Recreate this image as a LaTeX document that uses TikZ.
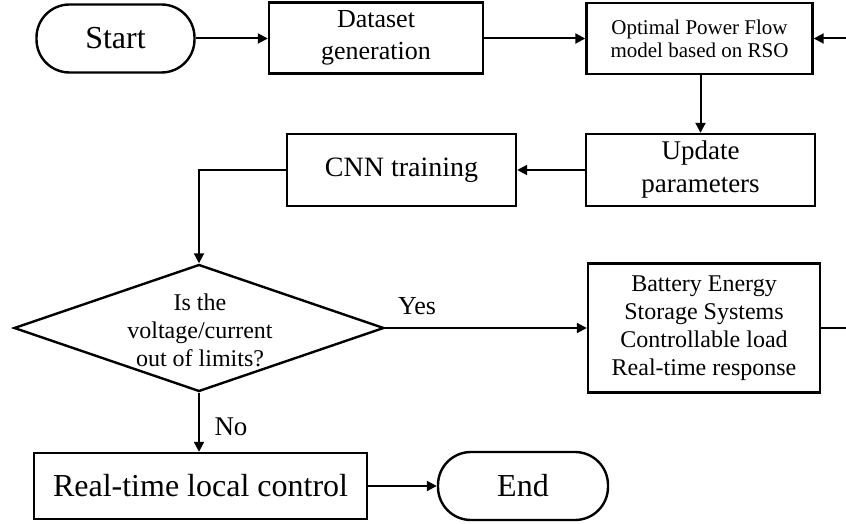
\documentclass[tikz,border=0pt]{standalone}
\usepackage{fontspec}
\setmainfont{Liberation Serif}
\usetikzlibrary{arrows.meta,shapes.geometric}
\tikzset{
  box/.style={draw, line width=2.4pt, rectangle, align=center, inner sep=0pt},
  term/.style={draw, line width=2.4pt, rectangle, rounded corners=33pt, align=center, inner sep=0pt},
  conn/.style={line width=2pt, -{Triangle[length=10pt,width=10pt]}},
  lbl/.style={inner sep=0pt, align=center}
}
\newcommand{\fs}[2]{\fontsize{#1}{#2}\selectfont}
\begin{document}
\begin{tikzpicture}[x=1pt,y=1pt]
\useasboundingbox (0,0) rectangle (846,-524);
% top row
\node[term, minimum width=158pt, minimum height=68pt, font=\fs{32}{38}] (start) at (115.5,-38.5) {Start};
\node[box, minimum width=214pt, minimum height=71pt, font=\fs{26}{32}] (data) at (376,-38) {Dataset\\generation};
\node[box, minimum width=226pt, minimum height=71pt, font=\fs{21}{23}] (opf) at (699.5,-38.5) {Optimal Power Flow\\model based on RSO};
% second row
\node[box, minimum width=229pt, minimum height=72pt, font=\fs{27}{33}] (upd) at (700.5,-170) {Update\\parameters};
\node[box, minimum width=229pt, minimum height=72pt, font=\fs{28}{34}] (cnn) at (401.5,-170) {CNN training};
% decision
\node[draw, line width=2.4pt, diamond, inner sep=0pt, minimum width=370pt, minimum height=127pt] (dec) at (199,-328) {};
\node[lbl, font=\fs{24}{28}] (dectext) at (200,-330) {Is the\\voltage/current\\out of limits?};
\node[box, minimum width=232pt, minimum height=129pt, font=\fs{24}{28}] (bat) at (704,-328) {Battery Energy\\Storage Systems\\Controllable load\\Real-time response};
% bottom row
\node[box, minimum width=333pt, minimum height=66pt, font=\fs{32}{38}] (rt) at (200.5,-486) {Real-time local control};
\node[term, minimum width=170pt, minimum height=68pt, font=\fs{32}{38}] (end) at (523,-486) {End};
% labels
\node[lbl, font=\fs{26}{30}] (yes) at (417,-306) {Yes};
\node[lbl, font=\fs{27}{30}] (no) at (231,-427) {No};
% connectors
\draw[conn] (start.east) -- (start.east -| data.west);
\draw[conn] (data.east |- opf.west) -- (opf.west);
\draw[conn] (upd.north -| opf.south) ++(0,0) (opf.south -| upd.north) -- (upd.north);
\draw[conn] (upd.west) -- (cnn.east);
\coordinate (cnnl) at (cnn.west -| dec.north);
\draw[conn] (cnn.west) -- (cnnl) -- (dec.north);
\draw[conn] (dec.east) -- (bat.west);
\draw[conn] (dec.south) -- (dec.south |- rt.north);
\draw[conn] (rt.east) -- (end.west);
\coordinate (loopr) at (870,-328);
\draw[conn] (bat.east) -- (loopr) |- (opf.east);
\end{tikzpicture}
\end{document}
